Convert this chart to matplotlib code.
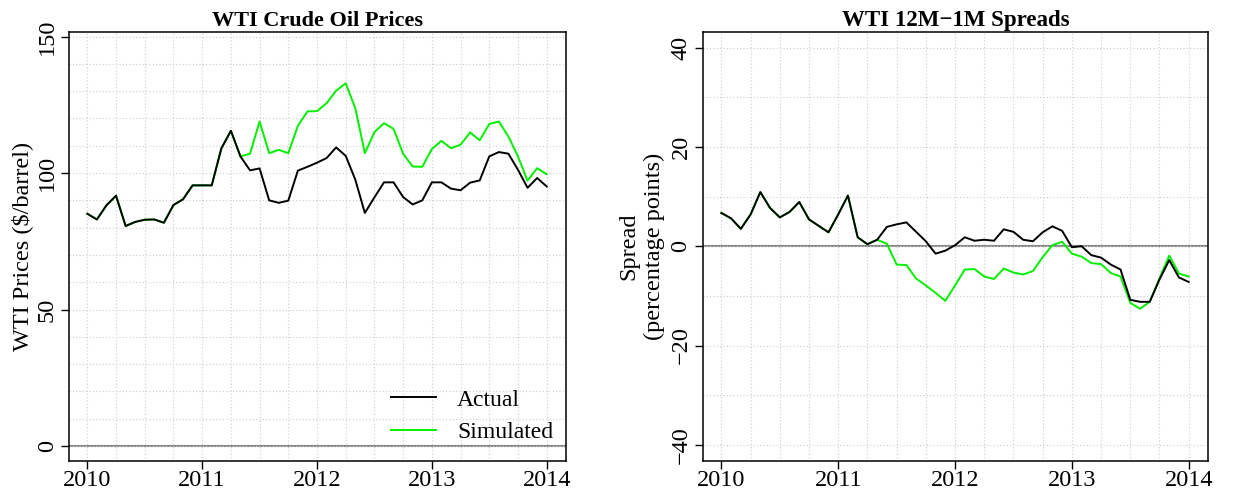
import matplotlib
matplotlib.use("Agg")
import matplotlib.pyplot as plt
import numpy as np
from matplotlib.ticker import MultipleLocator

# monthly observations, Jan 2010 .. Jan 2014
start_year = 2010
n_months = 49

price_actual = [85.1, 83.0, 88.2, 91.7, 80.6, 82.1, 82.9, 83.0, 81.8, 88.3,
                90.4, 95.5, 95.5, 95.5, 109.0, 115.5, 106.1, 101.0, 101.7, 90.0,
                89.1, 89.9, 100.9, 102.3, 103.8, 105.5, 109.4, 106.3, 97.6, 85.4,
                91.1, 96.6, 96.6, 91.2, 88.5, 90.0, 96.6, 96.6, 94.3, 93.7,
                96.5, 97.3, 106.1, 107.7, 107.1, 101.2, 94.6, 98.2, 95.1]
price_sim = price_actual[:17] + [
    107.1, 118.9, 107.3, 108.5, 107.3, 117.3, 122.6, 122.7, 125.6, 130.2,
    132.9, 123.8, 107.3, 115.0, 118.3, 116.2, 107.1, 102.4, 102.3, 108.8,
    111.8, 109.1, 110.4, 114.9, 112.0, 118.0, 118.9, 113.4, 106.1, 97.2,
    101.8, 99.6]

spread_actual = [6.7, 5.6, 3.5, 6.4, 10.9, 7.7, 5.8, 6.9, 8.9, 5.4,
                 4.1, 2.8, 6.4, 10.2, 1.8, 0.4, 1.3, 3.9, 4.4, 4.8,
                 2.9, 1.0, -1.5, -0.9, 0.2, 1.8, 1.1, 1.3, 1.1, 3.4,
                 2.9, 1.3, 1.0, 2.8, 4.0, 3.1, -0.2, 0.0, -1.8, -2.3,
                 -3.7, -4.7, -10.8, -11.2, -11.2, -6.7, -2.8, -6.3, -7.2]
spread_sim = spread_actual[:17] + [
    0.5, -3.7, -3.8, -6.5, -7.9, -9.4, -11.0, -7.9, -4.7, -4.6,
    -6.1, -6.6, -4.5, -5.3, -5.7, -5.0, -2.2, 0.2, 0.9, -1.5,
    -2.1, -3.4, -3.6, -5.4, -6.1, -11.4, -12.6, -11.2, -6.5, -1.9,
    -5.5, -6.1]

years = [2010, 2011, 2012, 2013, 2014]
price_ticks = [0, 50, 100, 150]
spread_ticks = [-40, -20, 0, 20, 40]

plt.rcParams['font.family'] = ['Liberation Serif', 'DejaVu Serif']
plt.rcParams['axes.unicode_minus'] = True

t = start_year + np.arange(n_months) / 12.0
GREEN = '#00f000'
FS = 17.5

fig = plt.figure(figsize=(12.47, 4.94), dpi=100)
ax1 = fig.add_axes([0.0553, 0.0674, 0.3983, 0.8684])
ax2 = fig.add_axes([0.5635, 0.0674, 0.4052, 0.8684])


def style(ax, yticks, ylim, yminor):
    ax.set_xlim(2009.84, 2014.165)
    ax.set_ylim(*ylim)
    ax.set_xticks(years)
    ax.set_xticklabels([str(y) for y in years])
    ax.xaxis.set_minor_locator(MultipleLocator(0.25))
    ax.set_yticks(yticks)
    ax.set_yticklabels([str(v).replace('-', '\u2212') for v in yticks],
                       rotation=90, va='center')
    ax.yaxis.set_minor_locator(MultipleLocator(yminor))
    ax.grid(True, which='both', color='#cccccc', linestyle=(0, (1, 2)),
            linewidth=0.8, zorder=0)
    ax.tick_params(which='minor', length=0)
    ax.tick_params(which='major', length=6, width=1, labelsize=FS,
                   direction='out', pad=2)
    ax.tick_params(axis='x', pad=1)
    for s in ax.spines.values():
        s.set_linewidth(1.1)
    ax.axhline(0, color='#888888', linewidth=1.5, zorder=1)


style(ax1, price_ticks, (-5.4, 151.8), 10)
ax1.plot(t, price_sim, color=GREEN, linewidth=1.4, label='Simulated', zorder=2)
ax1.plot(t, price_actual, color='black', linewidth=1.4, label='Actual', zorder=3)
ax1.set_title('WTI Crude Oil Prices', fontsize=16, fontweight='bold', pad=4)
ax1.set_ylabel('WTI Prices ($/barrel)', fontsize=FS, labelpad=3)
h, l = ax1.get_legend_handles_labels()
ax1.legend(h[::-1], l[::-1], loc='lower right', bbox_to_anchor=(0.999, 0.014),
           frameon=False, fontsize=17, handlelength=1.9, handletextpad=0.9,
           labelspacing=0.46, borderpad=0)

style(ax2, spread_ticks, (-43.2, 43.2), 10)
ax2.plot(t, spread_sim, color=GREEN, linewidth=1.4, zorder=2)
ax2.plot(t, spread_actual, color='black', linewidth=1.4, zorder=3)
ax2.set_title('WTI 12M\u22121M Spreads', fontsize=16.5, fontweight='bold', pad=4)
ax2.set_ylabel('Spread\n(percentage points)', fontsize=FS, labelpad=4,
               linespacing=1.25)

fig.savefig('out.png', dpi=100)
